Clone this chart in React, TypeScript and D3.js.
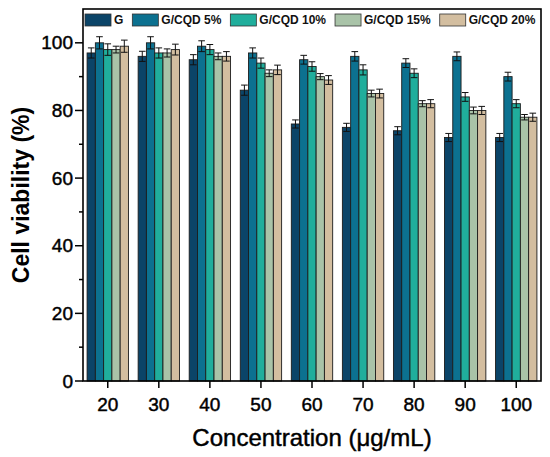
import * as d3 from 'd3';

// concentrations on the x axis (µg/mL)
const concentrations = ['20', '30', '40', '50', '60', '70', '80', '90', '100'];
const seriesNames = ['G', 'G/CQD 5%', 'G/CQD 10%', 'G/CQD 15%', 'G/CQD 20%'];
const seriesColors = ['#0b4468', '#0c7190', '#20ae9c', '#a9c3a8', '#d3bea0'];

// cell viability (%)
const viabilityG = [97, 96, 95, 86, 76, 75, 74, 72, 72];
const viability5 = [100, 100, 99, 97, 95, 96, 94, 96, 90];
const viability10 = [98, 97, 98, 94, 93, 92, 91, 84, 82];
const viability15 = [98, 97, 96, 91, 90, 85, 82, 80, 78];
const viability20 = [99, 98, 96, 92, 89, 85, 82, 80, 78];

// standard deviations (error bars)
const errG = [1.5, 1.5, 1.5, 1.5, 1.2, 1.2, 1.2, 1.2, 1.2];
const err5 = [1.8, 1.8, 1.6, 1.5, 1.3, 1.4, 1.3, 1.3, 1.3];
const err10 = [1.7, 1.5, 1.5, 1.5, 1.4, 1.5, 1.3, 1.3, 1.2];
const err15 = [1.0, 1.2, 1.0, 1.0, 0.9, 1.0, 0.9, 1.0, 0.8];
const err20 = [1.8, 1.6, 1.4, 1.4, 1.3, 1.3, 1.2, 1.2, 1.2];

const yTicks = [0, 20, 40, 60, 80, 100];
const yMinorTicks = [10, 30, 50, 70, 90];

const values = [viabilityG, viability5, viability10, viability15, viability20];
const errors = [errG, err5, err10, err15, err20];

const W = 550;
const H = 457;
const plot = { left: 83, right: 541, top: 9, bottom: 381 };
const FONT = '"Liberation Sans", Arial, Helvetica, sans-serif';

function textWidth(text: string, font: string) {
  const ctx = document.createElement('canvas').getContext('2d');
  if (!ctx) return text.length * 7;
  ctx.font = font;
  return ctx.measureText(text).width;
}

// slightly heavier than regular, like the original's medium-weight labels
const heavy = { stroke: '#000', strokeWidth: 0.45 };

export default function App() {
  const x = d3
    .scaleBand<string>()
    .domain(concentrations)
    .range([plot.left, plot.right])
    .paddingInner(0.19)
    .paddingOuter(0.08);
  const xs = d3.scaleBand<string>().domain(seriesNames).range([0, x.bandwidth()]);
  const y = d3.scaleLinear().domain([0, 110]).range([plot.bottom, plot.top]);

  const bw = xs.bandwidth();
  const cap = bw * 0.8;

  // legend layout
  const legendFont = `bold 12px ${FONT}`;
  let lx = 85;
  const legendItems = seriesNames.map((name, i) => {
    const item = { name, color: seriesColors[i], x: lx };
    lx += 26 + 3 + textWidth(name, legendFont) + 9;
    return item;
  });

  return (
    <svg
      width={W}
      height={H}
      style={{ position: 'absolute', left: 0, top: 0, background: '#fff' }}
      fontFamily={FONT}
    >
      {/* bars */}
      {concentrations.map((c, ci) => (
        <g key={c} transform={`translate(${x(c)},0)`}>
          {seriesNames.map((s, si) => {
            const v = values[si][ci];
            const e = errors[si][ci];
            const bx = xs(s) ?? 0;
            const cx = bx + bw / 2;
            return (
              <g key={s}>
                <rect
                  x={bx}
                  y={y(v)}
                  width={bw}
                  height={y(0) - y(v)}
                  fill={seriesColors[si]}
                  stroke="#1c1c1c"
                  strokeWidth={0.9}
                />
                <g stroke="#111" strokeWidth={1}>
                  <line x1={cx} x2={cx} y1={y(v + e)} y2={y(v - e)} />
                  <line x1={cx - cap / 2} x2={cx + cap / 2} y1={y(v + e)} y2={y(v + e)} />
                  <line x1={cx - cap / 2} x2={cx + cap / 2} y1={y(v - e)} y2={y(v - e)} />
                </g>
              </g>
            );
          })}
        </g>
      ))}

      {/* frame */}
      <rect
        x={plot.left}
        y={plot.top}
        width={plot.right - plot.left}
        height={plot.bottom - plot.top}
        fill="none"
        stroke="#000"
        strokeWidth={1.6}
      />

      {/* y axis ticks */}
      {yTicks.map((t) => (
        <g key={t}>
          <line x1={plot.left - 8} x2={plot.left} y1={y(t)} y2={y(t)} stroke="#000" strokeWidth={1.5} />
          <text x={plot.left - 10} y={y(t)} textAnchor="end" dominantBaseline="central" fontSize={19} {...heavy}>
            {t}
          </text>
        </g>
      ))}
      {yMinorTicks.map((t) => (
        <line key={t} x1={plot.left - 4} x2={plot.left} y1={y(t)} y2={y(t)} stroke="#000" strokeWidth={1.5} />
      ))}

      {/* x axis ticks */}
      {concentrations.map((c) => {
        const cx = (x(c) ?? 0) + x.bandwidth() / 2;
        return (
          <g key={c}>
            <line x1={cx} x2={cx} y1={plot.bottom} y2={plot.bottom + 7} stroke="#000" strokeWidth={1.5} />
            <text x={cx} y={411} textAnchor="middle" fontSize={19} {...heavy}>
              {c}
            </text>
          </g>
        );
      })}

      {/* axis titles */}
      <text x={312} y={446} textAnchor="middle" fontSize={24} {...heavy}>
        Concentration (μg/mL)
      </text>
      <text
        transform="translate(21,195) rotate(-90)"
        textAnchor="middle"
        dominantBaseline="central"
        fontSize={23}
        fontWeight="bold"
      >
        Cell viability (%)
      </text>

      {/* legend */}
      {legendItems.map((it) => (
        <g key={it.name}>
          <rect x={it.x} y={14} width={26} height={12} fill={it.color} stroke="#333" strokeWidth={0.8} />
          <text x={it.x + 29} y={20} dominantBaseline="central" fontSize={12} fontWeight="bold" fill="#111">
            {it.name}
          </text>
        </g>
      ))}
    </svg>
  );
}
